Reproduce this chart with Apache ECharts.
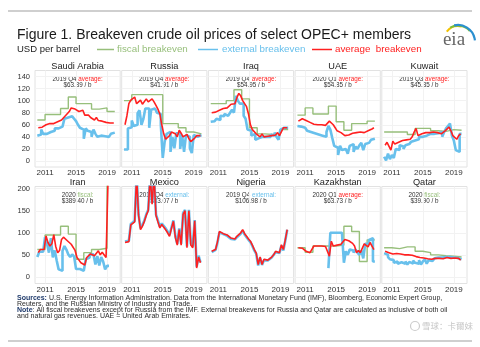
<!DOCTYPE html>
<html><head><meta charset="utf-8">
<script src="https://cdn.jsdelivr.net/npm/echarts@6/dist/echarts.min.js"></script>
<style>html,body{margin:0;padding:0;background:#fff}#c{width:480px;height:347px}</style>
</head><body><div id="c"></div>
<script>
// ---- axes / categories ----
const years = [2010,2011,2012,2013,2014,2015,2016,2017,2018,2019];
const xTicks = [2011, 2015, 2019];
const yTicksTop = [0,20,40,60,80,100,120,140];
const yTicksBottom = [0,50,100,150,200];

// ---- Saudi Arabia ----
const saudiFiscal = [68,77,77,87,106,95,95,86,88,82];
const saudiExternal = [42,44,52,45, 45,48,48,47, 50,54,54,55, 57,58,70,72, 75,74,72,70, 66,60,55,52, 37,54,50,48, 40,52,45,40, 42,40,41,44, 40,43,45,47];
const saudiAverage = [55,58,56,59, 60,61,62,61, 62,63,65,66, 68,70,75,78, 82,88,90,86, 85,82,80,84, 76,74,76,72, 74,68,72,67, 70,66,67,64, 65,63,64,63];
// ---- Russia ----
const russiaFiscal = [100,110,110,110,110,62,62,55,48,45];
const russiaExternal = [19,19,54,56, 67,58,60,79, 84,60,70,87, 87,55,85,87, 88,80,78,60, 5,32,45,48, 15,40,21,46, 46,20,43,15, 43,40,21,13, 43,40,43,43];
const russiaAverage = [60,75,95,101, 98,106,95,92, 101,94,92,103, 98,95,103,98, 92,86,78,60, 45,36,38,42, 48,51,45,40, 51,46,40,37, 44,37,32,29, 38,42,42,42];
// ---- Iraq ----
const iraqFiscal = [95,95,100,118,103,55,45,44,46,52];
const iraqExternal = [65,66,65,70, 68,75,74,78, 75,78,80,85, 80,108,100,95, 95,75,70,52, 50,42,45,35, 38,36,40,38, 40,42,40,44, 42,47,40,35, 52,55,55,55];
const iraqAverage = [80,79,81,80, 84,86,87,89, 88,90,94,92, 95,105,112,108, 100,95,90,78, 60,52,55,45, 42,40,45,40, 42,41,44,42, 45,43,47,42, 45,55,55,55];
// ---- UAE ----
const uaeFiscal = [76,88,78,78,91,65,51,62,62,66];
const uaeExternal = [58,57,59,55, 55,50,48,47, 46,45,44,43, 42,44,40,48, 58,52,38,25, 22,10,25,18, 20,22,12,25, 28,15,24,20, 26,30,18,28, 30,33,35,37];
const uaeAverage = [66,68,70,68, 67,65,64,62, 61,60,60,59, 60,60,59,60, 66,67,60,55, 50,52,47,46, 42,44,43,45, 46,44,47,46, 48,50,47,49, 50,52,53,55];
// ---- Kuwait ----
const kuwaitFiscal = [48,48,48,44,54,54,50,49,52,51];
const kuwaitExternal = [7,1,12,3, 10,5,20,18, 26,24,20,26, 28,29,32,34, 34,36,40,40, 42,42,44,45, 45,45,46,46, 48,48,40,48, 54,58,62,42, 34,18,15,45];
const kuwaitAverage = [26,31,28,18, 33,28,30,31, 33,34,36,35, 36,36,40,48, 54,42,45,45, 48,47,46,47, 45,48,46,47, 46,45,48,50, 51,56,50,42, 40,36,42,45];
// ---- Iran ----
const iranFiscal = [62,95,95,115,97,40,55,62,65,389.4];
const iranExternal = [45,57,57,55, 90,75,55,88, 44,60,37,17, 14,59,70,62, 51,45,51,46, 18,18,16,14, 10,40,44,51, 51,47,28,47, 26,45,35,17, 25];
const iranAverage = [55,62,62,62, 93,78,70,75, 96,69,55,60, 85,90,88,82, 78,74,70,60, 44,38,32,30, 27,44,48,52, 55,48,52,59, 50,56,52,44, 215,215];
// ---- Mexico ----
const mexicoExternal = [80,78,82,120, 120,127,232,142, 110,118,128,142, 152,232,168,232, 142,128,114,121, 121,110,103,95, 112,128,93,75, 110,75,145,152, 69,152,75,69, 129,23,48,33];
const mexicoAverage = [78,76,80,118, 118,125,230,140, 107,115,126,140, 150,230,165,230, 140,125,111,119, 119,107,100,92, 110,126,90,72, 107,72,142,150, 66,150,72,66, 127,20,45,32];
// ---- Nigeria ----
const nigeriaExternal = [56,59,61,78, 101,99,97,95, 93,90,86,89, 85,90,94,98, 105,96,90,84, 79,70,60,52, 26,43,27,38, 37,37,40,44, 48,56,60,54, 71,60,82,107];
const nigeriaAverage = [58,60,62,80, 103,100,98,97, 95,92,88,90, 86,92,95,100, 107,98,92,86, 81,72,62,54, 28,45,28,40, 39,38,42,45, 50,58,62,55, 73,62,84,107];
// ---- Kazakhstan ----
const kazakhFiscal = [66,56,70,70,70,72,115,103,35,84];
const kazakhExternal = [20,100,100,100, 100,100,100,100, 32,58,50,62, 60,55,62,55, 50,60,42,75, 75,84,88,35];
const kazakhAverage = [66,66,65,66, 58,55,55,58, 70,71,70,70, 70,71,69,70, 47,81,70,71, 72,72,74,75, 85,88,82,80, 76,70,55,60, 55,58,75,72, 68,78,70,62];
// ---- Qatar ----
const qatarFiscal = [66,64,68,68,58,55,50,48,47,45];
const qatarExternal = [54,50,45,40, 38,32,35,30, 33,36,30,35, 28,34,30,37, 32,30,38,28, 35,40,30,38, 36,40,42,44, 42,44,43,45, 44,45,43,44, 45,43,44,40];
const qatarAverage = [58,56,55,53, 52,51,53,50, 52,51,50,49, 50,48,49,46, 46,47,44,42, 43,40,41,38, 40,39,42,41, 42,43,41,43, 44,43,42,42, 43,42,42,38];

const panels = [
  {name:'Saudi Arabia', row:0, col:0, fiscal:saudiFiscal, external:saudiExternal, average:saudiAverage, extStart:2010, extStep:true, date:'2019 Q4 ', key:'average', val:'$63.89 / b'},
  {name:'Russia', row:0, col:1, fiscal:russiaFiscal, external:russiaExternal, average:russiaAverage, extStart:2010, extStep:true, date:'2019 Q4 ', key:'average', val:'$41.91 / b'},
  {name:'Iraq', row:0, col:2, fiscal:iraqFiscal, external:iraqExternal, average:iraqAverage, extStart:2010, extStep:true, date:'2019 Q4 ', key:'average', val:'$54.95 / b'},
  {name:'UAE', row:0, col:3, fiscal:uaeFiscal, external:uaeExternal, average:uaeAverage, extStart:2010, extStep:true, date:'2020 Q1 ', key:'average', val:'$54.85 / b'},
  {name:'Kuwait', row:0, col:4, fiscal:kuwaitFiscal, external:kuwaitExternal, average:kuwaitAverage, extStart:2010, extStep:true, date:'2019 Q3 ', key:'average', val:'$45.35 / b'},
  {name:'Iran', row:1, col:0, fiscal:iranFiscal, external:iranExternal, average:iranAverage, extStart:2010, extStep:true, date:'2020 ', key:'fiscal', val:'$389.40 / b'},
  {name:'Mexico', row:1, col:1, fiscal:null, external:mexicoExternal, average:mexicoAverage, extStart:2010, extStep:false, date:'2019 Q4 ', key:'external', val:'$33.07 / b'},
  {name:'Nigeria', row:1, col:2, fiscal:null, external:nigeriaExternal, average:nigeriaAverage, extStart:2010, extStep:false, date:'2019 Q4 ', key:'external', val:'$106.98 / b'},
  {name:'Kazakhstan', row:1, col:3, fiscal:kazakhFiscal, external:kazakhExternal, average:kazakhAverage, extStart:2014, extStep:true, date:'2020 Q1 ', key:'average', val:'$63.73 / b'},
  {name:'Qatar', row:1, col:4, fiscal:qatarFiscal, external:qatarExternal, average:qatarAverage, extStart:2010, extStep:true, date:'2020 ', key:'fiscal', val:'$39.90 / b'}
];

const C = {fiscal:'#97bf7b', external:'#68c0ec', average:'#ff2020', text:'#222222'};
const FONT = '"Liberation Sans", Arial, sans-serif';
const rows = [
  {top:70.5, height:96.5, min:-10, max:150, ticks:yTicksTop, titleY:66.5, noteY:79},
  {top:186.5, height:97, min:-15, max:205, ticks:yTicksBottom, titleY:182.5, noteY:195}
];
const colLeft = 35, colStep = 86.7, colWidth = 85.2;

const grid = [], xAxis = [], yAxis = [], series = [], graphic = [];
panels.forEach((p, i) => {
  const r = rows[p.row];
  const left = colLeft + p.col * colStep;
  grid.push({left:left, top:r.top, width:colWidth, height:r.height, show:true, borderColor:'#e2e2e2', borderWidth:1, containLabel:false});
  xAxis.push({gridIndex:i, type:'value', min:2009.7, max:2020.7,
    axisLine:{show:false}, axisTick:{show:false, customValues:xTicks},
    axisLabel:{customValues:xTicks, formatter:v => String(v), fontSize:8, color:'#333', fontFamily:FONT, margin:2},
    splitLine:{show:true, lineStyle:{color:'#f2f2f2', width:1}}});
  yAxis.push({gridIndex:i, type:'value', min:r.min, max:r.max,
    axisLine:{show:false}, axisTick:{show:false, customValues:r.ticks},
    axisLabel:{show:p.col===0, customValues:r.ticks, formatter:v => String(v), fontSize:7.5, color:'#333', fontFamily:FONT, margin:5},
    splitLine:{show:true, lineStyle:{color:'#f2f2f2', width:1}}});
  if (p.fiscal) {
    const d = years.map((y, k) => [y, p.fiscal[k]]);
    d.push([years[years.length-1] + 1, p.fiscal[p.fiscal.length-1]]);
    series.push({type:'line', xAxisIndex:i, yAxisIndex:i, data:d, step:'end', showSymbol:false, clip:true,
      lineStyle:{color:C.fiscal, width:1.4}, silent:true, z:2});
  }
  {
    let d;
    if (p.extStep) {
      d = p.external.map((v, k) => [p.extStart + k/4, v]);
      d.push([p.extStart + p.external.length/4, p.external[p.external.length-1]]);
    } else {
      d = p.external.map((v, k) => [p.extStart + k/4 + 0.125, v]);
    }
    series.push({type:'line', xAxisIndex:i, yAxisIndex:i, data:d, step:p.extStep ? 'end' : false, showSymbol:false, clip:true,
      lineStyle:{color:C.external, width:2.6}, silent:true, z:3});
  }
  {
    const d = p.average.map((v, k) => [2010 + k/4 + 0.125, v]);
    series.push({type:'line', xAxisIndex:i, yAxisIndex:i, data:d, showSymbol:false, clip:true,
      lineStyle:{color:C.average, width:1.6}, silent:true, z:4});
  }
  const cx = left + colWidth/2;
  graphic.push({type:'text', x:cx, y:r.titleY, silent:true, style:{text:p.name, fontSize:9.2, fontFamily:FONT, fill:C.text, align:'center', verticalAlign:'middle'}});
  graphic.push({type:'text', x:cx, y:r.noteY, silent:true, style:{
    text:p.date + '{k|' + p.key + ':}', fontSize:6.3, fontFamily:FONT, fill:'#333', align:'center', verticalAlign:'middle',
    rich:{k:{fill:C[p.key], fontSize:6.3, fontFamily:FONT}}}});
  graphic.push({type:'text', x:cx, y:r.noteY + 5.8, silent:true, style:{
    text:p.val, fontSize:6.3, fontFamily:FONT, fill:'#333', align:'center', verticalAlign:'middle'}});
});

// header
graphic.push({type:'line', silent:true, shape:{x1:8,y1:11,x2:472,y2:11}, style:{stroke:'#cfcfcf', lineWidth:2}});
graphic.push({type:'line', silent:true, shape:{x1:8,y1:341,x2:472,y2:341}, style:{stroke:'#cfcfcf', lineWidth:2}});
graphic.push({type:'text', x:17, y:35.5, silent:true, style:{text:'Figure 1. Breakeven crude oil prices of select OPEC+ members', fontSize:14, fontFamily:FONT, fill:'#1a1a1a', verticalAlign:'middle'}});
graphic.push({type:'text', x:17, y:49.5, silent:true, style:{text:'USD per barrel', fontSize:9.5, fontFamily:FONT, fill:'#222', verticalAlign:'middle'}});
const legendItems = [
  {x1:97, x2:114, tx:117, label:'fiscal breakeven', color:C.fiscal},
  {x1:198, x2:218, tx:222, label:'external breakeven', color:C.external},
  {x1:312, x2:332, tx:335, label:'average  breakeven', color:C.average}
];
legendItems.forEach(l => {
  graphic.push({type:'line', silent:true, shape:{x1:l.x1, y1:49.5, x2:l.x2, y2:49.5}, style:{stroke:l.color, lineWidth:1.5}});
  graphic.push({type:'text', x:l.tx, y:49.5, silent:true, style:{text:l.label, fontSize:9.8, fontFamily:FONT, fill:l.color, verticalAlign:'middle'}});
});
// eia logo
graphic.push({type:'arc', silent:true, shape:{cx:458, cy:40, r:14, startAngle:-2.5, endAngle:-1.3}, style:{stroke:'#f2c200', lineWidth:2, fill:null}});
graphic.push({type:'arc', silent:true, shape:{cx:458, cy:41, r:15.5, startAngle:-2.1, endAngle:-0.7}, style:{stroke:'#7cbf3a', lineWidth:2, fill:null}});
graphic.push({type:'arc', silent:true, shape:{cx:458, cy:42, r:17, startAngle:-1.8, endAngle:-0.1}, style:{stroke:'#2a8fd0', lineWidth:2.2, fill:null}});
graphic.push({type:'text', x:454, y:40, silent:true, style:{text:'eia', fontSize:19, fontFamily:'"Liberation Serif", "DejaVu Serif", serif', fill:'#666', align:'center', verticalAlign:'middle'}});

// footer
const footLines = [
  '{b|Sources:} U.S. Energy Information Administration. Data from the International Monetary Fund (IMF), Bloomberg, Economic Expert Group,',
  'Reuters, and the Russian Ministry of Industry and Trade.',
  '{b|Note}: All fiscal breakevens except for Russia from the IMF. External breakevens for Russia and Qatar are calculated as inclusive of both oil',
  'and natural gas revenues. UAE = United Arab Emirates.'
];
footLines.forEach((t, k) => {
  graphic.push({type:'text', x:17, y:298.3 + k*6, silent:true, style:{text:t, fontSize:7, fontFamily:FONT, fill:'#2a2a2a', verticalAlign:'middle',
    rich:{b:{fontSize:7, fontFamily:FONT, fontWeight:'bold', fill:'#1f3a6b'}}}});
});
// watermark
graphic.push({type:'circle', silent:true, shape:{cx:415, cy:326, r:4.5}, style:{stroke:'#cccccc', lineWidth:1.2, fill:null}});
graphic.push({type:'text', x:422, y:326, silent:true, style:{text:'雪球：卡爾妹', fontSize:8.5, fontFamily:'"Noto Sans CJK SC", sans-serif', fill:'#c6c6c6', verticalAlign:'middle'}});

const chart = echarts.init(document.getElementById('c'), null, {renderer:'canvas', width:480, height:347});
chart.setOption({animation:false, backgroundColor:'#ffffff', grid, xAxis, yAxis, series, graphic});
</script></body></html>
